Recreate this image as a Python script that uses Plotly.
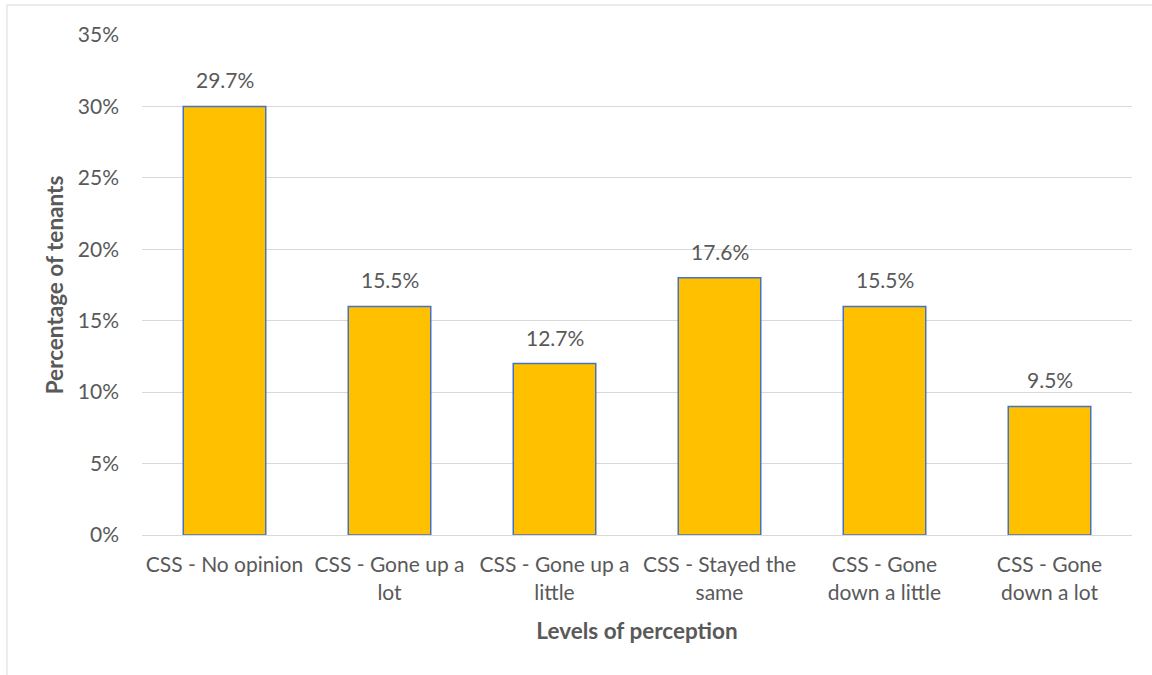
import plotly.graph_objects as go

categories = ["CSS - No opinion", "CSS - Gone up a<br>lot", "CSS - Gone up a<br>little",
              "CSS - Stayed the<br>same", "CSS - Gone<br>down a little", "CSS - Gone<br>down a lot"]
bar_values = [30, 16, 12, 18, 16, 9]
label_texts = ["29.7%", "15.5%", "12.7%", "17.6%", "15.5%", "9.5%"]
y_ticks = [0, 5, 10, 15, 20, 25, 30, 35]
y_tick_labels = ["0%", "5%", "10%", "15%", "20%", "25%", "30%", "35%"]

FONT = "Lato, 'Open Sans', sans-serif"
GREY = "#595959"
FS = 21
TFS = 22.5

fig = go.Figure()
fig.add_trace(go.Bar(
    x=categories, y=bar_values, width=0.5,
    marker=dict(color="#FFC000", line=dict(color="#4472C4", width=1.5)),
    hoverinfo="skip",
))

for c, v, t in zip(categories, bar_values, label_texts):
    fig.add_annotation(x=c, y=v, text=t, showarrow=False, yanchor="bottom", yshift=12,
                       font=dict(family=FONT, size=FS, color=GREY))

fig.add_shape(type="rect", xref="paper", yref="paper", x0=-0.1364, x1=1.05, y0=-0.3, y1=1.06,
              line=dict(color="#d9d9d9", width=1), layer="below")

fig.update_layout(
    width=1152, height=675,
    margin=dict(l=142, r=20, t=35, b=140),
    paper_bgcolor="white", plot_bgcolor="white",
    showlegend=False, bargap=0.5,
    font=dict(family=FONT, size=FS, color=GREY),
    xaxis=dict(
        title=dict(text="<b>Levels of perception</b>", font=dict(family=FONT, size=TFS, color=GREY), standoff=20),
        showline=True, linecolor="#d9d9d9", linewidth=1, ticks="", showgrid=False,
        tickfont=dict(family=FONT, size=FS, color=GREY), ticklabelstandoff=11,
    ),
    yaxis=dict(
        title=dict(text="<b>Percentage of tenants</b>", font=dict(family=FONT, size=TFS, color=GREY), standoff=7),
        range=[0, 35], tickvals=y_ticks, ticktext=y_tick_labels,
        showgrid=True, gridcolor="#d9d9d9", gridwidth=1, zeroline=False, showline=False,
        ticks="", ticklabelstandoff=22,
        tickfont=dict(family=FONT, size=FS, color=GREY),
    ),
)

fig.write_html("out.html", config={"displayModeBar": False},
               post_script="document.body.style.margin='0';")
